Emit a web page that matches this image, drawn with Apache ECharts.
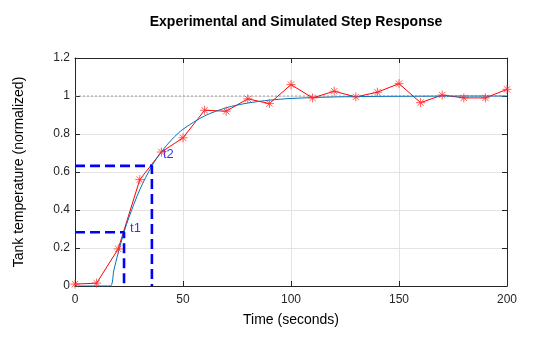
<!DOCTYPE html>
<html>
<head>
<meta charset="utf-8">
<script src="https://cdn.jsdelivr.net/npm/echarts@6/dist/echarts.min.js"></script>
<style>
  html, body { margin: 0; padding: 0; background: #fff; }
  #chart { width: 560px; height: 337px; }
</style>
</head>
<body>
<div id="chart"></div>
<script>
// Measured tank temperature, sampled every 10 s
const timeSec = [0, 10, 20, 30, 40, 50, 60, 70, 80, 90, 100, 110, 120, 130, 140, 150, 160, 170, 180, 190, 200];
const measured = [0.01, 0.015, 0.195, 0.56, 0.705, 0.78, 0.925, 0.92, 0.985, 0.96, 1.06, 0.99, 1.025, 0.995, 1.02, 1.065, 0.965, 1.005, 0.99, 0.99, 1.035];

// Simulated first-order-plus-dead-time response
const simTime = [0, 10, 16.3, 18, 20, 22.7, 25, 30, 35.6, 40, 45, 50, 60, 70, 80, 90, 100, 120, 140, 160, 180, 200];
const simValue = [0, 0, 0, 0.084, 0.174, 0.283, 0.362, 0.507, 0.632, 0.706, 0.773, 0.825, 0.895, 0.938, 0.963, 0.978, 0.987, 0.995, 0.998, 0.999, 1.0, 1.0];

// Two-point method markers
const t1 = 22.7, y1 = 0.283;
const t2 = 35.6, y2 = 0.632;
const markerNames = ['t1', 't2'];
const markerLabelPos = [[25.5, 0.305], [40.7, 0.695]];

const xTicks = [0, 50, 100, 150, 200];
const yTicks = [0, 0.2, 0.4, 0.6, 0.8, 1, 1.2];

const font = 'Liberation Sans, Arial, Helvetica, sans-serif';
const asterisk = 'path://M-5,0L5,0M0,-5L0,5M-3.5,-3.5L3.5,3.5M-3.5,3.5L3.5,-3.5';

const frameAxis = {
  type: 'value',
  axisLine: { show: true, onZero: false, lineStyle: { color: '#262626', width: 1 } },
  axisTick: { show: true, inside: true, length: 5, lineStyle: { color: '#262626' } },
  axisLabel: { show: false },
  splitLine: { show: false }
};

const chart = echarts.init(document.getElementById('chart'), null, { renderer: 'canvas' });
chart.setOption({
  backgroundColor: '#ffffff',
  animation: false,
  title: {
    text: 'Experimental and Simulated Step Response',
    left: 291, top: 10, textAlign: 'center',
    textStyle: { fontFamily: font, fontSize: 14, fontWeight: 'bold', color: '#000' }
  },
  grid: { left: 75, right: 53, top: 58, bottom: 51 },
  xAxis: [
    {
      type: 'value', min: 0, max: 200, interval: 50,
      name: 'Time (seconds)', nameLocation: 'middle', nameGap: 27,
      nameTextStyle: { fontFamily: font, fontSize: 14, color: '#000' },
      axisLine: { show: true, onZero: false, lineStyle: { color: '#262626', width: 1 } },
      axisTick: { show: true, inside: true, length: 5, lineStyle: { color: '#262626' } },
      axisLabel: { fontFamily: font, fontSize: 12, color: '#262626', margin: 8,
        formatter: v => xTicks.includes(v) ? String(v) : '' },
      splitLine: { show: true, lineStyle: { color: '#e3e3e3', width: 1 } }
    },
    Object.assign({}, frameAxis, { position: 'top', min: 0, max: 200, interval: 50 })
  ],
  yAxis: [
    {
      type: 'value', min: 0, max: 1.2, interval: 0.2,
      name: 'Tank temperature (normalized)', nameLocation: 'middle', nameGap: 49,
      nameTextStyle: { fontFamily: font, fontSize: 14, color: '#000' },
      axisLine: { show: true, onZero: false, lineStyle: { color: '#262626', width: 1 } },
      axisTick: { show: true, inside: true, length: 5, lineStyle: { color: '#262626' } },
      axisLabel: { fontFamily: font, fontSize: 12, color: '#262626', margin: 5,
        formatter: v => String(Math.round(v * 10) / 10) },
      splitLine: { show: true, lineStyle: { color: '#e3e3e3', width: 1 } }
    },
    Object.assign({}, frameAxis, { position: 'right', min: 0, max: 1.2, interval: 0.2 })
  ],
  series: [
    {
      // final-value reference line
      type: 'line', data: [[0, 1], [200, 1]], symbol: 'none', silent: true,
      lineStyle: { color: '#8a8a8a', width: 0.8, type: [2, 2] }
    },
    {
      type: 'line', name: 'Measured',
      data: timeSec.map((t, i) => [t, measured[i]]),
      symbol: asterisk, symbolSize: 9,
      itemStyle: { color: 'rgba(0,0,0,0)', borderColor: '#ff3030', borderWidth: 0.8 },
      lineStyle: { color: '#ff0000', width: 1 }
    },
    {
      type: 'line', name: 'Simulated',
      data: simTime.map((t, i) => [t, simValue[i]]),
      symbol: 'none', smooth: 0.3,
      lineStyle: { color: '#0072bd', width: 1 }
    },
    {
      type: 'line', data: [[0, y1], [t1, y1], [t1, 0]], symbol: 'none',
      lineStyle: { color: '#0000ff', width: 2.6, type: [10, 5] }
    },
    {
      type: 'line', data: [[0, y2], [t2, y2], [t2, 0]], symbol: 'none',
      lineStyle: { color: '#0000ff', width: 2.6, type: [10, 5] }
    },
    {
      type: 'scatter', symbolSize: 0, silent: true,
      data: markerNames.map((n, i) => ({ name: n, value: markerLabelPos[i] })),
      label: {
        show: true, position: 'right', distance: 0,
        formatter: p => p.name,
        fontFamily: font, fontSize: 13, color: '#0000ff'
      }
    }
  ]
});
</script>
</body>
</html>
